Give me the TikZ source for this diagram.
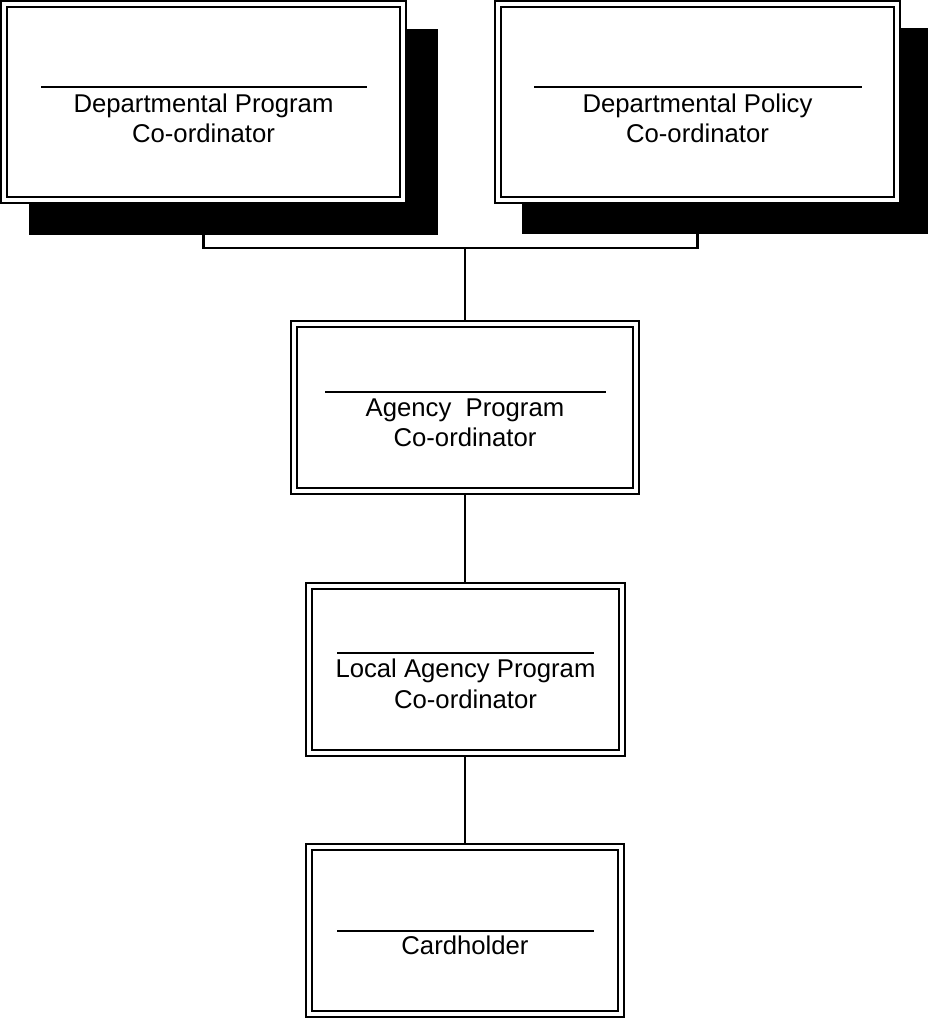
\documentclass[tikz,border=0pt]{standalone}
\usepackage{fontspec}
\setmainfont{Liberation Sans}
\pgfdeclarelayer{links}
\pgfdeclarelayer{shadows}
\pgfsetlayers{links,shadows,main}
\begin{document}
\begin{tikzpicture}[x=1pt,y=-1pt,
  box/.style={rectangle, draw=black, line width=2pt, double=white, double distance=4pt,
    fill=white, inner sep=0pt},
  bigbox/.style={box, minimum width=399pt, minimum height=196pt},
  smallbox/.style={box, minimum height=167pt},
  lbl/.style={font=\fontsize{25.7pt}{30.5pt}\selectfont, align=center, anchor=base, inner sep=0pt},
  rule/.style={line width=1.8pt},
  link/.style={line width=2.2pt},
  shadowfill/.style={fill=black}]
\useasboundingbox (0,0) rectangle (928,1018);

% boxes
\node[bigbox] (A) at (203.5,102) {};
\node[bigbox] (B) at (697.5,102) {};
\node[smallbox, minimum width=342pt] (C) at (465,407.5) {};
\node[smallbox, minimum width=313pt] (D) at (465,669.5) {};
\node[smallbox, minimum width=312pt] (E) at (465,930.5) {};

% shadows
\begin{pgfonlayer}{shadows}
\fill[shadowfill] ([shift={(26,26)}]A.north west) rectangle ([shift={(34,34)}]A.south east);
\fill[shadowfill] ([shift={(25,25)}]B.north west) rectangle ([shift={(33,33)}]B.south east);
\end{pgfonlayer}

% rules
\draw[rule] (41,87) -- (367,87);
\draw[rule] (534,87) -- (862,87);
\draw[rule] (325,392) -- (606,392);
\draw[rule] (337,653) -- (594,653);
\draw[rule] (337,931) -- (594,931);

% labels (base anchor = baseline of the last line)
\node[lbl] (tA) at (203.5,142.5) {Departmental Program\\Co-ordinator};
\node[lbl] (tB) at (697.5,142.5) {Departmental Policy\\Co-ordinator};
\node[lbl] (tC) at (465,446.5) {Agency\ \ Program\\Co-ordinator};
\node[lbl] (tD) at (465.5,708) {Local Agency Program\\Co-ordinator};
\node[lbl] (tE) at (465,954) {Cardholder};

% connectors
\coordinate (J) at (465,248);
\begin{pgfonlayer}{links}
\draw[link] (A.south) |- (J) -| (B.south);
\draw[link] (J) -- (C.north);
\draw[link] (C.south) -- (D.north);
\draw[link] (D.south) -- (E.north);
\end{pgfonlayer}
\end{tikzpicture}
\end{document}
